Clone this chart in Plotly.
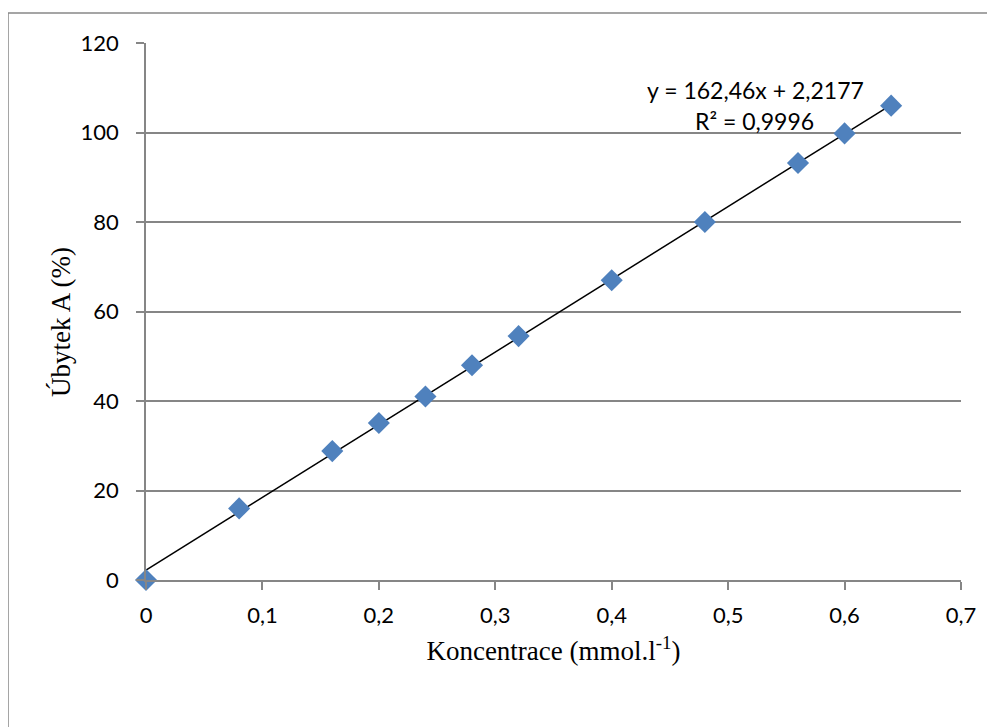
import plotly.graph_objects as go

# Data
konc = [0, 0.08, 0.16, 0.2, 0.24, 0.28, 0.32, 0.4, 0.48, 0.56, 0.6, 0.64]
ubytek = [0, 16, 28.8, 35.1, 41, 48, 54.5, 67, 80, 93.2, 99.8, 106]
slope = 162.46
intercept = 2.2177
r2_text = "0,9996"
x_ticks = [0, 0.1, 0.2, 0.3, 0.4, 0.5, 0.6, 0.7]
x_ticklabels = ["0", "0,1", "0,2", "0,3", "0,4", "0,5", "0,6", "0,7"]
y_ticks = [0, 20, 40, 60, 80, 100, 120]

trend_x = [min(konc), max(konc)]
trend_y = [slope * v + intercept for v in trend_x]

fig = go.Figure()
fig.add_trace(go.Scatter(x=trend_x, y=trend_y, mode="lines",
                         line=dict(color="black", width=1.5), showlegend=False,
                         hoverinfo="skip", cliponaxis=False))
fig.add_trace(go.Scatter(x=konc, y=ubytek, mode="markers", cliponaxis=False,
                         marker=dict(symbol="diamond", size=17, color="#4F81BD",
                                     line=dict(width=0)), showlegend=False))

OFF = 8  # page body margin
W, H = 995 - OFF, 727 - OFF
ml, mr, mt = 146 - OFF, 34, 43 - OFF
mb = H - (580 - OFF)
pw, ph = W - ml - mr, H - mt - mb

def px2paper_x(px):
    return (px - OFF - ml) / pw

def px2paper_y(py):
    return (H - mb - (py - OFF)) / ph

fig.add_shape(type="rect", xref="paper", yref="paper",
              x0=px2paper_x(8), x1=px2paper_x(1010),
              y0=px2paper_y(745), y1=px2paper_y(13),
              line=dict(color="#888888", width=1.5), layer="below")

eq_text = "y = " + f"{slope:.2f}".replace(".", ",") + "x + " + f"{intercept:.4f}".replace(".", ",")
fig.add_annotation(x=px2paper_x(755), y=px2paper_y(90), xref="paper", yref="paper",
                   xanchor="center", yanchor="middle",
                   text=eq_text, showarrow=False,
                   font=dict(family="Lato", size=23, color="black"))
fig.add_annotation(x=px2paper_x(754), y=px2paper_y(121), xref="paper", yref="paper",
                   xanchor="center", yanchor="middle",
                   text="R² = " + r2_text, showarrow=False,
                   font=dict(family="Lato", size=23, color="black"))
fig.add_annotation(x=px2paper_x(61), y=px2paper_y(322), xref="paper", yref="paper",
                   xanchor="center", yanchor="middle", textangle=-90,
                   text="Úbytek A (%)", showarrow=False,
                   font=dict(family="Liberation Serif", size=27, color="black"))

fig.update_layout(
    width=W, height=H,
    margin=dict(l=ml, r=mr, t=mt, b=mb),
    paper_bgcolor="white", plot_bgcolor="white",
    font=dict(family="Lato", size=22, color="black"),
    xaxis=dict(range=[0, 0.7], tickvals=x_ticks, ticktext=x_ticklabels,
               showgrid=False, zeroline=False, showline=True, linecolor="#868686", linewidth=1.5,
               ticks="outside", ticklen=8, tickcolor="#868686", tickwidth=1.5,
               ticklabelstandoff=7,
               title=dict(text="Koncentrace (mmol.l<sup>-1</sup>)",
                          font=dict(family="Liberation Serif", size=27), standoff=14)),
    yaxis=dict(range=[0, 120], tickvals=y_ticks,
               showgrid=True, gridcolor="#868686", gridwidth=1.5, zeroline=False,
               showline=True, linecolor="#868686", linewidth=1.5,
               ticks="outside", ticklen=8, tickcolor="#868686", tickwidth=1.5,
               ticklabelstandoff=13),
)

fig.write_html("out.html")
